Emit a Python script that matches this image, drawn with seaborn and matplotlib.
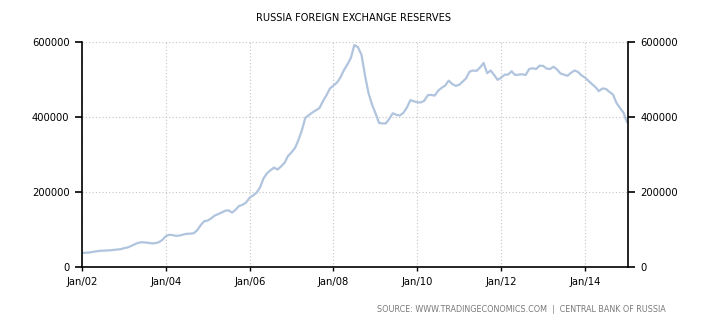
import numpy as np
import pandas as pd
import matplotlib
matplotlib.use("Agg")
import matplotlib.pyplot as plt
import matplotlib.dates as mdates
import seaborn as sns

# Russia foreign exchange reserves, USD million, monthly from Jan 2002
reserves_2002 = [37500, 38000, 38500, 40000, 41500, 43000, 43500, 44000, 44500, 45500, 46500, 47500]
reserves_2003 = [50000, 52000, 55500, 60000, 64000, 66000, 65500, 64500, 63000, 63500, 66000, 72000]
reserves_2004 = [82000, 86000, 85000, 83000, 84000, 86500, 88500, 89000, 90000, 98000, 112000, 122000]
reserves_2005 = [124000, 130000, 137000, 141000, 145000, 150000, 151000, 145000, 153000, 163000, 166000, 172000]
reserves_2006 = [185000, 191000, 198000, 212000, 236000, 250000, 258000, 265000, 260000, 268000, 278000, 296000]
reserves_2007 = [306000, 318000, 338000, 365000, 398000, 405000, 412000, 418000, 424000, 442000, 458000, 476000]
reserves_2008 = [484000, 492000, 505000, 525000, 540000, 558000, 592000, 586000, 566000, 512000, 464000, 434000]
reserves_2009 = [410000, 384000, 383000, 383000, 395000, 410000, 406000, 404000, 411000, 425000, 445000, 442000]
reserves_2010 = [439000, 439000, 443000, 458000, 459000, 457000, 470000, 478000, 484000, 497000, 488000, 483000]
reserves_2011 = [486000, 495000, 503000, 521000, 524000, 523000, 532000, 544000, 517000, 524000, 512000, 499000]
reserves_2012 = [505000, 513000, 513000, 522000, 512000, 513000, 514000, 512000, 528000, 530000, 528000, 537000]
reserves_2013 = [536000, 529000, 528000, 534000, 527000, 516000, 513000, 510000, 518000, 524000, 520000, 511000]
reserves_2014 = [505000, 496000, 488000, 480000, 469000, 476000, 475000, 467000, 460000, 438000, 424000, 412000]
reserves_2015 = [386000]

values = (reserves_2002 + reserves_2003 + reserves_2004 + reserves_2005 + reserves_2006
          + reserves_2007 + reserves_2008 + reserves_2009 + reserves_2010 + reserves_2011
          + reserves_2012 + reserves_2013 + reserves_2014 + reserves_2015)
dates = pd.date_range("2002-01-01", periods=len(values), freq="MS")

y_ticks = [0, 200000, 400000, 600000]
x_tick_years = [2002, 2004, 2006, 2008, 2010, 2012, 2014]

df = pd.DataFrame({"date": dates, "reserves": values})

sns.set_style("white")
plt.rcParams["font.family"] = ["DejaVu Sans"]

fig = plt.figure(figsize=(7.1, 3.25), dpi=100)
ax = fig.add_axes([82 / 710, 58 / 325, 546 / 710, 225 / 325])

sns.lineplot(data=df, x="date", y="reserves", ax=ax, color="#b0c4de", linewidth=1.6)

ax.set_xlim(pd.Timestamp("2002-01-01"), pd.Timestamp("2015-01-10"))
ax.set_ylim(0, 600000)
ax.set_yticks(y_ticks)
ax.set_yticklabels([str(v) for v in y_ticks])
ax.set_xticks([pd.Timestamp(f"{y}-01-01") for y in x_tick_years])
ax.xaxis.set_major_formatter(mdates.DateFormatter("Jan/%y"))

ax.set_xlabel("")
ax.set_ylabel("")

ax.grid(True, which="major", linestyle=(0, (1, 2)), color="#c4c4c4", linewidth=0.8)
ax.set_axisbelow(True)

for side in ["left", "right", "bottom"]:
    ax.spines[side].set_visible(True)
    ax.spines[side].set_color("black")
    ax.spines[side].set_linewidth(1.2)
ax.spines["top"].set_visible(False)

ax.tick_params(axis="y", which="major", left=True, right=True, labelleft=True, labelright=True,
               length=5, width=1.2, color="black", labelsize=7.2, pad=4, labelcolor="black")
ax.tick_params(axis="x", which="major", bottom=True, length=3, width=1, color="black",
               labelsize=7.2, pad=4, labelcolor="black")

fig.text(354 / 710, 1 - 18 / 325, "RUSSIA FOREIGN EXCHANGE RESERVES", ha="center", va="center",
         fontsize=7.1, color="black")
fig.text(666 / 710, 1 - 310 / 325, "SOURCE: WWW.TRADINGECONOMICS.COM  |  CENTRAL BANK OF RUSSIA",
         ha="right", va="center", fontsize=5.8, color="#7a7a7a")

fig.savefig("out.png", dpi=100, facecolor="white")
